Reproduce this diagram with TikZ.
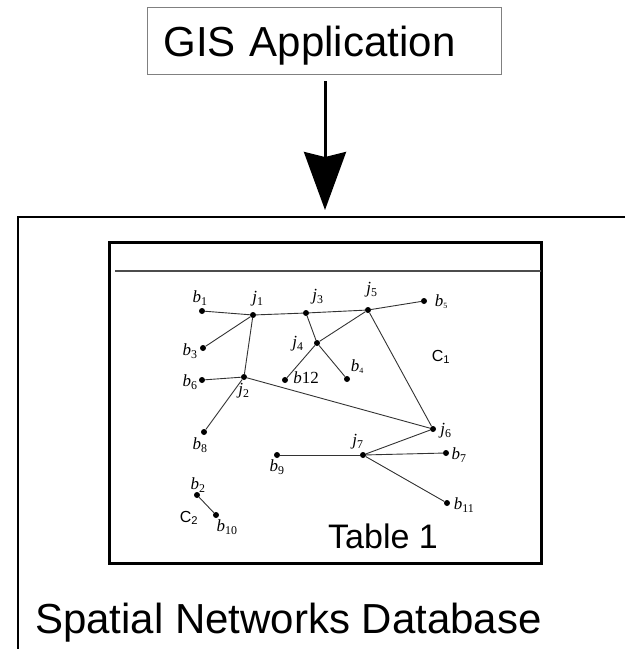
\documentclass[tikz,border=0pt]{standalone}
\usepackage{fontspec}
\setmainfont{Liberation Serif}
\setsansfont{Liberation Sans}
\usetikzlibrary{arrows.meta, positioning}
\newcommand{\netlab}[2]{\textit{#1}\textsubscript{#2}}

\begin{document}
\begin{tikzpicture}[x=1pt, y=-1pt, >={Stealth[length=58pt, width=42pt, inset=5pt]}]
	\tikzstyle{dot} = [circle, fill, inner sep=0pt, minimum size=6pt]
	\tikzstyle{lab} = [inner sep=0pt, font=\fontsize{17}{17}\selectfont]
	\tikzstyle{big} = [inner sep=0pt, font=\fontsize{42}{42}\sffamily]
	\useasboundingbox (0,0) rectangle (625,649);

	% application and database
	\node[big, draw=gray, line width=1.2pt, anchor=north west, minimum width=354pt, minimum height=67pt,
		inner xsep=16pt, text width=322pt, text height=30pt, text depth=0pt, align=left] (gis) at (147,7) {GIS Application};
	\coordinate (dbtop) at (325,210);
	\draw[->, line width=3pt, shorten <=6pt] (gis.south -| dbtop) -- (dbtop);
	\draw[line width=1.8pt] (625,217) -- (18,217) -- (18,649);
	\node[big, anchor=base west] (db) at (35,633) {Spatial Networks Database};

	% table
	\draw[line width=3pt] (109,242) rectangle (541,563);
	\draw[line width=1.5pt, gray!60!black] (115,271) -- (541,271);
	\node[inner sep=0pt, font=\fontsize{34}{34}\sffamily, anchor=base west] (tab) at (328,548) {Table 1};

	% network
	\node[dot] (b1) at (202,311) {};
	\node[dot] (j1) at (253,315) {};
	\node[dot] (j3) at (306,313) {};
	\node[dot] (j5) at (368,310) {};
	\node[dot] (b5) at (424,301) {};
	\node[dot] (b3) at (203,348) {};
	\node[dot] (j4) at (317,343) {};
	\node[dot] (b6) at (202,380) {};
	\node[dot] (j2) at (244,377) {};
	\node[dot] (b12) at (285,380) {};
	\node[dot] (b4) at (347,379) {};
	\node[dot] (j6) at (433,429) {};
	\node[dot] (b8) at (204,432) {};
	\node[dot] (j7) at (363,455) {};
	\node[dot] (b9) at (277,455) {};
	\node[dot] (b7) at (446,453) {};
	\node[dot] (b11) at (447,503) {};
	\node[dot] (b2) at (197,495) {};
	\node[dot] (b10) at (216,515) {};

	\node[lab] (lb1) at (200,298) {\netlab{b}{1}};
	\node[lab] (lj1) at (258,299) {\netlab{j}{1}};
	\node[lab] (lj3) at (318,297) {\netlab{j}{3}};
	\node[lab] (lj5) at (372,290) {\netlab{j}{5}};
	\node[lab] (lb5) at (441,302) {\textit{b}\raisebox{-2pt}{\fontsize{8}{8}\selectfont 5}};
	\node[lab] (lb3) at (190,351) {\netlab{b}{3}};
	\node[lab] (lj4) at (298,344) {\netlab{j}{4}};
	\node[lab] (lb6) at (190,382) {\netlab{b}{6}};
	\node[lab] (lj2) at (244,391) {\netlab{j}{2}};
	\node[lab] (lb12) at (306,378) {\textit{b}12};
	\node[lab] (lb4) at (357,367) {\textit{b}\raisebox{-2pt}{\fontsize{8}{8}\selectfont 4}};
	\node[lab] (lj6) at (446,431) {\netlab{j}{6}};
	\node[lab] (lb8) at (200,445) {\netlab{b}{8}};
	\node[lab] (lj7) at (358,442) {\netlab{j}{7}};
	\node[lab] (lb9) at (277,467) {\netlab{b}{9}};
	\node[lab] (lb7) at (459,455) {\netlab{b}{7}};
	\node[lab] (lb11) at (464,505) {\netlab{b}{11}};
	\node[lab] (lb2) at (198,485) {\netlab{b}{2}};
	\node[lab] (lb10) at (227,527) {\netlab{b}{10}};
	\node[inner sep=0pt, font=\fontsize{16}{16}\sffamily] (c1) at (441,357) {C\textsubscript{1}};
	\node[inner sep=0pt, font=\fontsize{16}{16}\sffamily] (c2) at (189,518) {C\textsubscript{2}};

	\path[line width=0.9pt, black!80]
		(b1) edge (j1)
		(j1) edge (j3)
		(j3) edge (j5)
		(j5) edge (b5)
		(j1) edge (b3)
		(j1) edge (j2)
		(j3) edge (j4)
		(j4) edge (j5)
		(j4) edge (b12)
		(j4) edge (b4)
		(j5) edge (j6)
		(b6) edge (j2)
		(j2) edge (j6)
		(j2) edge (b8)
		(j6) edge (j7)
		(b9) edge (j7)
		(j7) edge (b7)
		(j7) edge (b11)
		(b2) edge (b10)
	;
\end{tikzpicture}
\end{document}
